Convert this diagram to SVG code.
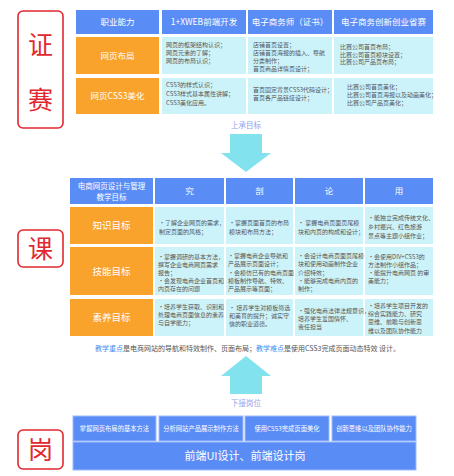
<svg xmlns="http://www.w3.org/2000/svg" width="454" height="476" viewBox="0 0 454 476">
<style>
text{font-family:"Noto Sans CJK SC","Noto Sans",sans-serif}
.hd{fill:#5a8cf6}
.or{fill:#f9a22c}
.cy{fill:#cdf3fa}
.red{fill:#fff;stroke:#e0282e;stroke-width:1.6}
.rt{fill:#e0282e;font-size:25px;text-anchor:middle}
.wh{fill:#fff;text-anchor:middle}
.sm{fill:#555;font-size:6px}
.arr{fill:#82e3ef}
.lbl{fill:#8fa3ec;font-size:7.5px;text-anchor:middle}
.bx{fill:#5a8cf6;stroke:#9dbcfb;stroke-width:1}
</style>
<rect width="454" height="476" fill="#fff"/>

<g id="badge-zhengsai">
<rect class="red" x="18" y="11" width="45" height="117" rx="5"/>
<text class="rt" x="40.5" y="54">证</text>
<text class="rt" x="40.5" y="109">赛</text>
</g>
<g id="badge-ke">
<rect class="red" x="18" y="230" width="45" height="37" rx="5"/>
<text class="rt" x="40.5" y="258">课</text>
</g>
<g id="badge-gang">
<rect class="red" x="18" y="430" width="45" height="39" rx="5"/>
<text class="rt" x="40.5" y="459">岗</text>
</g>

<g id="top-table">
<rect class="hd" x="76" y="10" width="83" height="24"/>
<rect class="hd" x="162" y="10" width="84" height="24"/>
<rect class="hd" x="248" y="10" width="84" height="24"/>
<rect class="hd" x="334" y="10" width="99" height="24"/>
<text class="wh" font-size="8.5" x="117.5" y="25">职业能力</text>
<text class="wh" font-size="8.5" x="204" y="25">1+XWEB前端开发</text>
<text class="wh" font-size="8.5" x="290" y="25">电子商务师（证书）</text>
<text class="wh" font-size="8.5" x="383.5" y="25">电子商务创新创业省赛</text>

<rect class="or" x="76" y="37" width="83" height="37"/>
<rect class="or" x="76" y="78" width="83" height="36"/>
<text class="wh" font-size="8.5" x="117.5" y="59">网页布局</text>
<text class="wh" font-size="8.5" x="117.5" y="99">网页CSS3美化</text>

<rect class="cy" x="162" y="37" width="84" height="37"/>
<rect class="cy" x="248" y="37" width="84" height="37"/>
<rect class="cy" x="334" y="37" width="99" height="37"/>
<rect class="cy" x="162" y="78" width="84" height="36"/>
<rect class="cy" x="248" y="78" width="84" height="36"/>
<rect class="cy" x="334" y="78" width="99" height="36"/>

<text class="sm"><tspan x="166" y="46.5">网页的框架结构认识；</tspan><tspan x="166" y="54.5">网页元素的了解；</tspan><tspan x="166" y="63">网页的布局认识；</tspan></text>
<text class="sm"><tspan x="166" y="87">CSS3的样式认识；</tspan><tspan x="166" y="96">CSS3样式基本属性讲解；</tspan><tspan x="166" y="104.5">CSS3美化应用。</tspan></text>
<text class="sm"><tspan x="253" y="47">店铺首页设置；</tspan><tspan x="253" y="55">店铺首页海报的插入、导航</tspan><tspan x="253" y="63">分类制作；</tspan><tspan x="253" y="71">首页商品详情页设计；</tspan></text>
<text class="sm"><tspan x="253" y="92">首页固定背景CSS3代码设计；</tspan><tspan x="253" y="100">首页各产品链接设计；</tspan></text>
<text class="sm" font-size="5.8"><tspan x="340" y="49">比赛公司首页布局；</tspan><tspan x="340" y="56.5">比赛公司首页模块设置；</tspan><tspan x="340" y="64">比赛公司产品页布局；</tspan></text>
<text class="sm" font-size="5.8"><tspan x="347" y="89">比赛公司首页美化；</tspan><tspan x="347" y="97">比赛公司首页海报以及动画美化；</tspan><tspan x="347" y="105">比赛公司产品页美化；</tspan></text>
</g>

<g id="connectors">
<text class="lbl" x="246" y="128">上承目标</text>
<polygon class="arr" points="230,134 262,134 262,153 271,153 246,172 221,153 230,153"/>
<polygon class="arr" points="246,356 271,376 262,376 262,394 230,394 230,376 221,376"/>
<text class="lbl" x="246" y="406">下接岗位</text>
</g>

<g id="mid-table">
<rect class="hd" x="70" y="178" width="83" height="26"/>
<rect class="hd" x="155" y="178" width="69" height="26"/>
<rect class="hd" x="226" y="178" width="67" height="26"/>
<rect class="hd" x="295" y="178" width="68" height="26"/>
<rect class="hd" x="365" y="178" width="68" height="26"/>
<text class="wh" font-size="7.5"><tspan x="111.5" y="189">电商网页设计与管理</tspan><tspan x="111.5" y="200">教学目标</tspan></text>
<text class="wh" font-size="8.5" x="189.5" y="194">究</text>
<text class="wh" font-size="8.5" x="259.5" y="194">剖</text>
<text class="wh" font-size="8.5" x="329" y="194">论</text>
<text class="wh" font-size="8.5" x="399" y="194">用</text>

<rect class="or" x="70" y="207" width="83" height="37"/>
<rect class="or" x="70" y="247" width="83" height="48"/>
<rect class="or" x="70" y="299" width="83" height="37"/>
<text class="wh" font-size="9.5" x="111.5" y="229">知识目标</text>
<text class="wh" font-size="9.5" x="111.5" y="275">技能目标</text>
<text class="wh" font-size="9.5" x="111.5" y="321">素养目标</text>

<rect class="cy" x="155" y="207" width="69" height="37"/>
<rect class="cy" x="226" y="207" width="67" height="37"/>
<rect class="cy" x="295" y="207" width="68" height="37"/>
<rect class="cy" x="365" y="207" width="68" height="37"/>
<rect class="cy" x="155" y="247" width="69" height="48"/>
<rect class="cy" x="226" y="247" width="67" height="48"/>
<rect class="cy" x="295" y="247" width="68" height="48"/>
<rect class="cy" x="365" y="247" width="68" height="48"/>
<rect class="cy" x="155" y="299" width="69" height="37"/>
<rect class="cy" x="226" y="299" width="67" height="37"/>
<rect class="cy" x="295" y="299" width="68" height="37"/>
<rect class="cy" x="365" y="299" width="68" height="37"/>

<text class="sm"><tspan x="159" y="224.5">•了解企业网页的需求，</tspan><tspan x="159" y="233.5">制定页面的风格；</tspan></text>
<text class="sm"><tspan x="158" y="258.5">•掌握调研的基本方法，</tspan><tspan x="158" y="266.5">撰写企业电商网页需求</tspan><tspan x="158" y="274.5">报告；</tspan><tspan x="158" y="282.5">•会发现电商企业首页和</tspan><tspan x="158" y="290.5">内页存在的问题</tspan></text>
<text class="sm"><tspan x="158" y="308.5">•培养学生获取、识别和</tspan><tspan x="158" y="316.5">处理电商页面信息的素养</tspan><tspan x="158" y="324.5">与自学能力；</tspan></text>

<text class="sm"><tspan x="229" y="224.5">•掌握页面首页的布局</tspan><tspan x="229" y="233.5">模块和布局方法；</tspan></text>
<text class="sm"><tspan x="228" y="257.5">•掌握电商企业导航和</tspan><tspan x="228" y="266">产品展示页面设计；</tspan><tspan x="228" y="274.5">•会模仿已有的电商页面</tspan><tspan x="228" y="282.5">模板制作导航、特效、</tspan><tspan x="228" y="290.5">产品展示等页面；</tspan></text>
<text class="sm"><tspan x="229" y="309.5">• 培养学生对模板筛选</tspan><tspan x="229" y="317.5">和美育的提升；诚实守</tspan><tspan x="229" y="325.5">信的职业道德。</tspan></text>

<text class="sm"><tspan x="298" y="224.5">• 掌握电商页面页尾模</tspan><tspan x="298" y="233.5">块和内页的构成和设计；</tspan></text>
<text class="sm"><tspan x="298" y="257.5">•会设计电商页面页尾模</tspan><tspan x="298" y="266">块和使用动画制作企业</tspan><tspan x="298" y="274.5">介绍特效；</tspan><tspan x="298" y="282.5">•能够完成电商内页的</tspan><tspan x="298" y="291">制作；</tspan></text>
<text class="sm"><tspan x="298" y="312.5">•强化电商法律法规意识，</tspan><tspan x="298" y="320.5">培养学生爱国情怀、</tspan><tspan x="298" y="328.5">责任担当</tspan></text>

<text class="sm"><tspan x="368" y="219.5">•能独立完成传统文化、</tspan><tspan x="368" y="228.5">乡村振兴、红色旅游</tspan><tspan x="368" y="237.5">景点等主题小组作业；</tspan></text>
<text class="sm"><tspan x="368" y="258.5">•会使用DIV+CSS3的</tspan><tspan x="368" y="266.5">方法制作小组作品；</tspan><tspan x="368" y="274.5">•能提升电商网页 的审</tspan><tspan x="368" y="282.5">美能力；</tspan></text>
<text class="sm"><tspan x="368" y="307.5">•培养学生项目开发的</tspan><tspan x="368" y="315.5">综合实践能力、研究</tspan><tspan x="368" y="324">思维、前瞻与创新思</tspan><tspan x="368" y="332.5">维以及团队协作能力</tspan></text>

<text font-size="7" fill="#555" x="95" y="351"><tspan fill="#3c8ef0">教学重点</tspan>是电商网站的导航和特效制作、页面布局；<tspan fill="#3c8ef0">教学难点</tspan>是使用CSS3完成页面动态特效 设计。</text>
</g>

<g id="bottom">
<rect class="bx" x="73" y="416" width="83" height="25"/>
<rect class="bx" x="159" y="416" width="84" height="25"/>
<rect class="bx" x="245" y="416" width="84" height="25"/>
<rect class="bx" x="332" y="416" width="84" height="25"/>
<text class="wh" font-size="6.3" x="114.5" y="431">掌握网页布局的基本方法</text>
<text class="wh" font-size="6.3" x="201" y="431">分析网站产品展示制作方法</text>
<text class="wh" font-size="6.3" x="287" y="431">使用CSS3完成页面美化</text>
<text class="wh" font-size="6.3" x="374" y="431">创新思维以及团队协作能力</text>
<rect class="bx" x="73" y="442" width="343" height="28"/>
<text class="wh" font-size="11" x="245" y="460">前端UI设计、前端设计岗</text>
</g>
</svg>
